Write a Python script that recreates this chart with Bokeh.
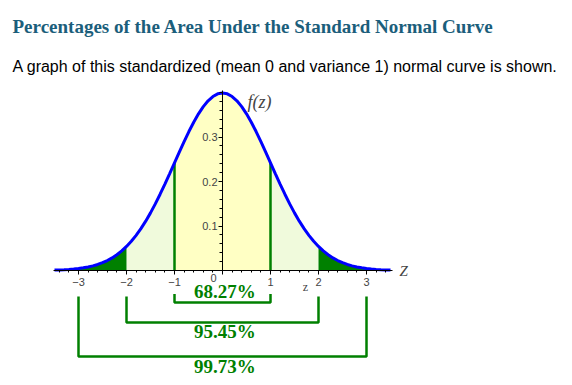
from bokeh.plotting import figure
from bokeh.models import (Range1d, LinearAxis, FixedTicker, Label, ColumnDataSource)
from bokeh.core.properties import value
from bokeh.embed import file_html
from bokeh.resources import INLINE

# ---- data ----
title_text = "Percentages of the Area Under the Standard Normal Curve"
subtitle_text = "A graph of this standardized (mean 0 and variance 1) normal curve is shown."

# z from 0 to 3.5 in steps of 0.1 and the standard normal density read at these z
half_z = [round(i / 10, 1) for i in range(0, 36)]
half_density = [0.3989, 0.3970, 0.3910, 0.3814, 0.3683, 0.3521, 0.3332, 0.3123,
                0.2897, 0.2661, 0.2420, 0.2179, 0.1942, 0.1714, 0.1497, 0.1295,
                0.1109, 0.0940, 0.0790, 0.0656, 0.0540, 0.0440, 0.0355, 0.0283,
                0.0224, 0.0175, 0.0136, 0.0104, 0.0079, 0.0060, 0.0044, 0.0033,
                0.0024, 0.0017, 0.0012, 0.0009]
z = [-v for v in half_z[::-1]] + half_z[1:]
density = half_density[::-1] + half_density[1:]

x_ticks = [-3, -2, -1, 0, 1, 2, 3]
y_ticks = [0.1, 0.2, 0.3]
x_minor = [round(-3.4 + 0.2 * i, 1) for i in range(35)]
y_minor = [round(0.02 * i, 2) for i in range(1, 21)]

bracket_lo = [-1, -2, -3]
bracket_hi = [1, 2, 3]
bracket_pct = ["68.27%", "95.45%", "99.73%"]

# ---- layout ----
W, H = 560, 380
PX_X = 48.0    # px per z unit
PX_Y = 445.0   # px per density unit
X0, Y0 = 222, 270  # origin in figure px (from left / from top)

p = figure(width=W, height=H, output_backend="svg", toolbar_location=None,
           x_range=Range1d(-X0 / PX_X, (W - X0) / PX_X),
           y_range=Range1d(-(H - Y0) / PX_Y, Y0 / PX_Y),
           min_border=0, x_axis_type=None, y_axis_type=None)
p.outline_line_color = None
p.xgrid.visible = False
p.ygrid.visible = False
p.background_fill_color = "white"

def py(page_y):
    return (Y0 - page_y) / PX_Y

def px(page_x):
    return (page_x - X0) / PX_X

GREEN = "#008000"
YELLOW = "#ffffc4"
LIGHT = "#f0fadc"

def sub(lo, hi):
    xs = [a for a in z if lo - 1e-9 <= a <= hi + 1e-9]
    ys = [d for a, d in zip(z, density) if lo - 1e-9 <= a <= hi + 1e-9]
    return xs, ys

for lo, hi, col in [(-1, 1, YELLOW), (-2, -1, LIGHT), (1, 2, LIGHT),
                    (-3.5, -2, GREEN), (2, 3.5, GREEN)]:
    xs, ys = sub(lo, hi)
    p.varea(x=xs, y1=[0] * len(xs), y2=ys, fill_color=col)

# vertical lines at +-1
d1 = density[z.index(1.0)]
p.segment(x0=[-1, 1], y0=[0, 0], x1=[-1, 1], y1=[d1, d1], line_color=GREEN, line_width=2.5)

# axes through origin
xaxis = LinearAxis(fixed_location=0, bounds=(-3.52, 3.55),
                   ticker=FixedTicker(ticks=x_ticks, minor_ticks=x_minor),
                   major_label_overrides={0: ""},
                   major_tick_in=0, major_tick_out=4, minor_tick_in=0, minor_tick_out=2,
                   major_label_standoff=3,
                   major_label_text_font="Liberation Sans",
                   major_label_text_font_size="11px",
                   axis_line_color="black", major_tick_line_color="black",
                   minor_tick_line_color="black")
p.add_layout(xaxis, "below")
yaxis = LinearAxis(fixed_location=0, bounds=(0, 0.405),
                   ticker=FixedTicker(ticks=y_ticks, minor_ticks=y_minor),
                   major_tick_in=0, major_tick_out=4, minor_tick_in=0, minor_tick_out=3,
                   major_label_standoff=1,
                   major_label_text_font="Liberation Sans",
                   major_label_text_font_size="11px",
                   axis_line_color="black", major_tick_line_color="black",
                   minor_tick_line_color="black")
p.add_layout(yaxis, "left")

# curve
p.line(z, density, line_color="#0000ff", line_width=3)

# brackets
tops = [py(293.5), py(296), py(296)]
bots = [py(302), py(322), py(356)]
p.multi_line(xs=[[lo, lo, hi, hi] for lo, hi in zip(bracket_lo, bracket_hi)],
             ys=[[t, b, b, t] for t, b in zip(tops, bots)],
             line_color=GREEN, line_width=2.5)
src = ColumnDataSource(dict(x=[(lo + hi) / 2 + 0.05 for lo, hi in zip(bracket_lo, bracket_hi)],
                            y=[py(290.5), py(331), py(366)], t=bracket_pct))
p.text(x="x", y="y", text="t", source=src, text_align="center", text_baseline="middle",
       text_font=value("Liberation Serif"), text_font_style="bold",
       text_font_size="19px", text_color=GREEN)

# small texts
p.add_layout(Label(x=px(213), y=py(277.5), text="0", text_align="center", text_baseline="middle",
                   text_font="Liberation Sans", text_font_size="11px"))
p.add_layout(Label(x=px(305), y=py(286), text="z", text_align="center",
                   text_baseline="middle", text_font="Liberation Serif",
                   text_font_size="12px"))
p.add_layout(Label(x=px(399), y=0, text="Z", text_align="left",
                   text_baseline="middle", text_font="Liberation Serif",
                   text_font_style="italic", text_font_size="15px"))
p.add_layout(Label(x=px(247), y=py(101), text="f(z)", text_align="left",
                   text_baseline="alphabetic", text_font="Liberation Serif",
                   text_font_style="italic", text_font_size="18px"))

# title and subtitle
p.add_layout(Label(x=12, y=H - 26, x_units="screen", y_units="screen", text=title_text,
                   text_align="left", text_baseline="alphabetic",
                   text_font="Liberation Serif", text_font_style="bold",
                   text_font_size="19px", text_color="#1b5e7b"))
p.add_layout(Label(x=12, y=H - 66, x_units="screen", y_units="screen", text=subtitle_text,
                   text_align="left", text_baseline="alphabetic",
                   text_font="Liberation Sans", text_font_size="16px",
                   text_color="black"))

open("out.html", "w").write(file_html(p, INLINE))
